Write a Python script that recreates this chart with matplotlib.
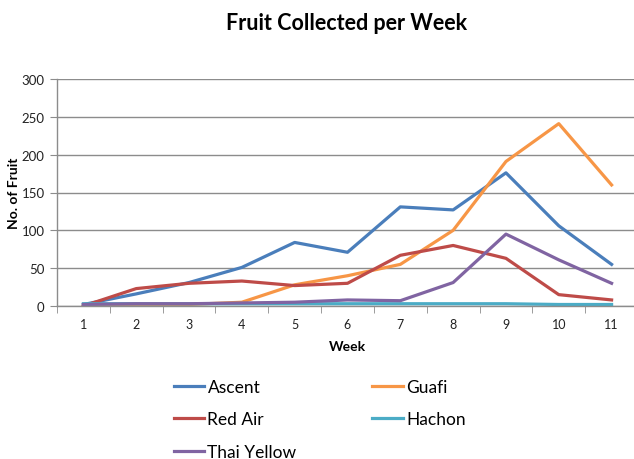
import matplotlib.pyplot as plt
import numpy as np

weeks = [1, 2, 3, 4, 5, 6, 7, 8, 9, 10, 11]
ascent = [2, 16, 31, 51, 84, 71, 131, 127, 176, 106, 55]
guafi = [0, 1, 2, 5, 28, 40, 55, 100, 191, 241, 160]
red_air = [0, 23, 30, 33, 27, 30, 67, 80, 63, 15, 8]
hachon = [3, 3, 3, 3, 3, 3, 3, 3, 3, 2, 2]
thai_yellow = [2, 3, 3, 4, 5, 8, 7, 31, 95, 61, 30]

plt.rcParams['font.family'] = ['Lato', 'DejaVu Sans']

fig = plt.figure(figsize=(6.34, 4.6), dpi=100)
ax = fig.add_axes([57 / 634, 153 / 460, 581 / 634, 227 / 460])

x = np.arange(len(weeks))
lw = 2.3
l_asc, = ax.plot(x, ascent, color='#4A7EBB', lw=lw, label='Ascent')
l_gua, = ax.plot(x, guafi, color='#F79646', lw=lw, label='Guafi')
l_red, = ax.plot(x, red_air, color='#BE4B48', lw=lw, label='Red Air')
l_hac, = ax.plot(x, hachon, color='#4BACC6', lw=lw, label='Hachon')
l_thai, = ax.plot(x, thai_yellow, color='#8064A2', lw=lw, label='Thai Yellow')

ax.set_xlim(-0.5, len(weeks) - 0.5)
ax.set_ylim(0, 300)
ax.set_yticks(range(0, 301, 50))
ax.yaxis.grid(True, color='#8c8c8c', lw=1)
ax.set_axisbelow(True)

ax.set_xticks(x)
ax.set_xticklabels([str(w) for w in weeks])
ax.set_xticks(np.arange(-0.5, len(weeks), 1), minor=True)
ax.tick_params(axis='x', which='major', length=0, pad=9, labelsize=9, labelcolor='#222222')
ax.tick_params(axis='x', which='minor', length=5, color='#8c8c8c', direction='out')
ax.tick_params(axis='y', length=5, color='#8c8c8c', labelsize=9.5, labelcolor='#222222', pad=4)

for s in ['top', 'right']:
    ax.spines[s].set_visible(False)
for s in ['left', 'bottom']:
    ax.spines[s].set_color('#8c8c8c')
    ax.spines[s].set_linewidth(1)

ax.set_xlabel('Week', fontsize=10, fontweight='bold', labelpad=7)
ax.set_ylabel('No. of Fruit', fontsize=10, fontweight='bold', labelpad=1)

fig.text(347 / 634, 1 - 23 / 460, 'Fruit Collected per Week', fontsize=15.5,
         fontweight='bold', ha='center', va='center')

handles = [l_asc, l_red, l_thai, l_gua, l_hac]
fig.legend(handles, [h.get_label() for h in handles], ncol=2, frameon=False,
           loc='upper left', bbox_to_anchor=(158 / 634, 1 - 364 / 460),
           fontsize=12.5, handlelength=1.75, handletextpad=0.2,
           columnspacing=4.35, labelspacing=0.95)

fig.savefig('out.png', dpi=100)
